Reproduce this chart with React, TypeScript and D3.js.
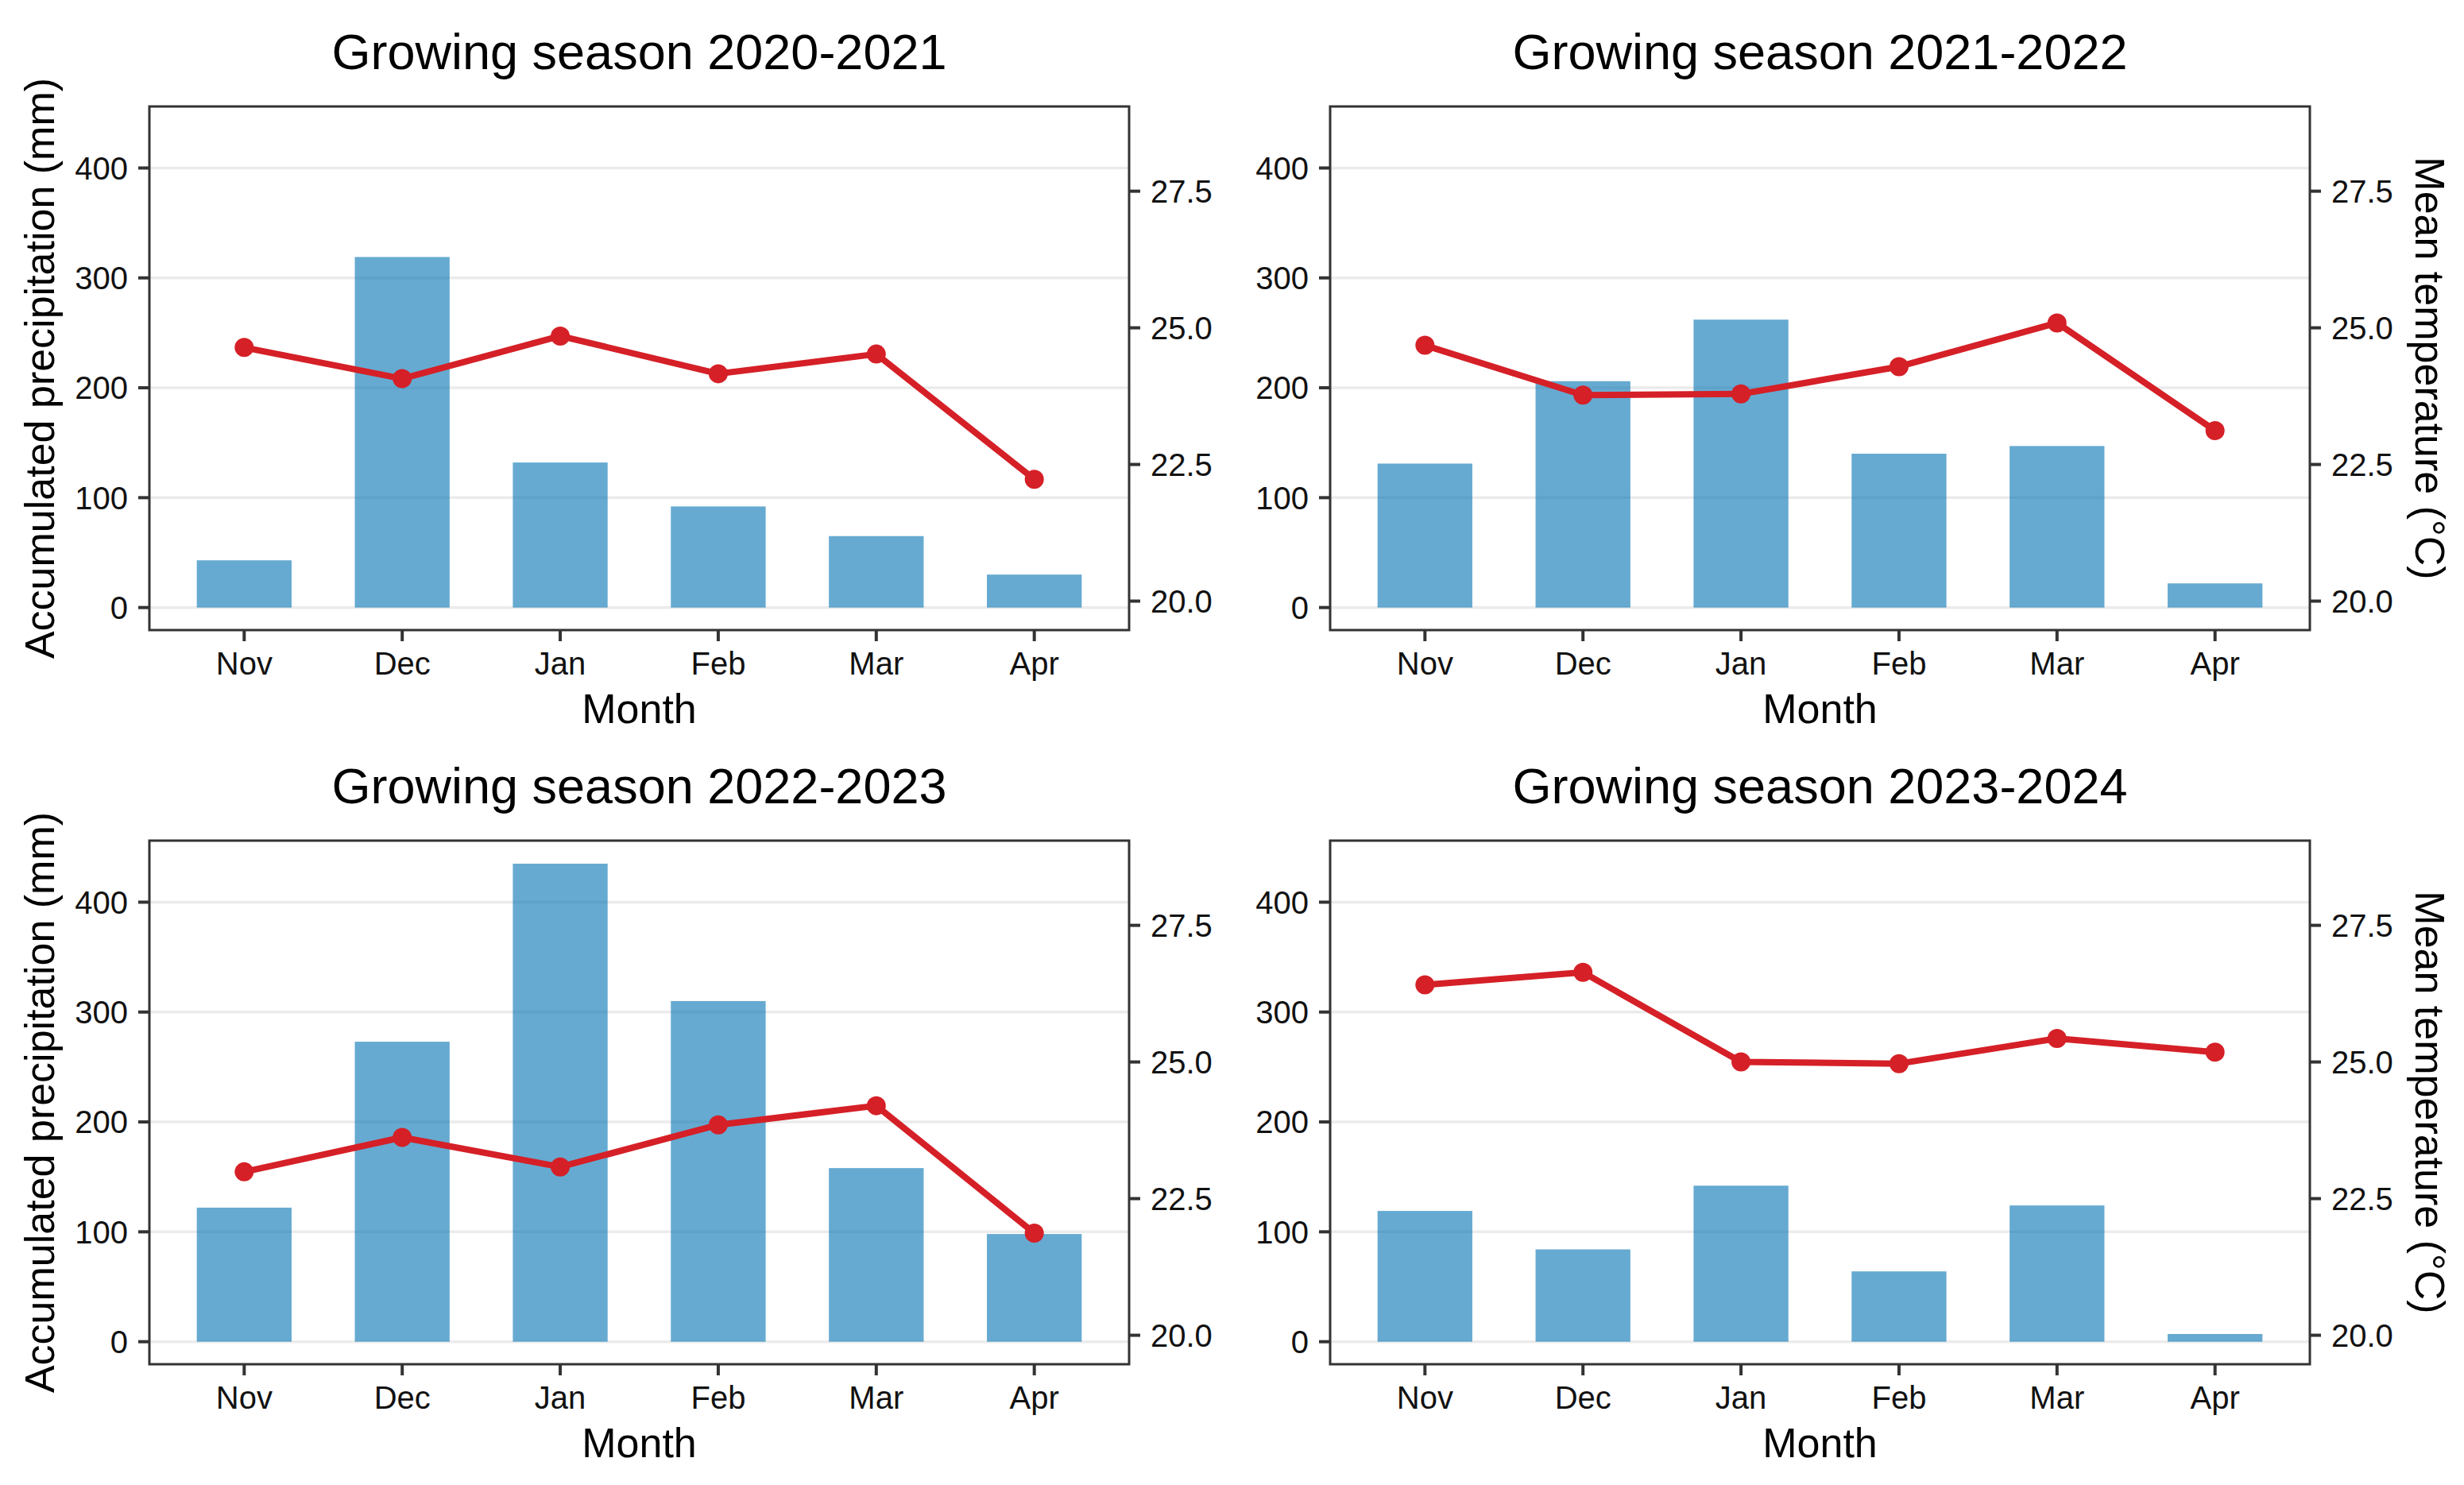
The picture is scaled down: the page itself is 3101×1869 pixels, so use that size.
import * as React from "react";
import * as d3 from "d3";

const months = ["Nov", "Dec", "Jan", "Feb", "Mar", "Apr"];
const seasons = ["2020-2021", "2021-2022", "2022-2023", "2023-2024"];

// accumulated precipitation per month (mm)
const precip2021 = [43, 319, 132, 92, 65, 30];
const precip2122 = [131, 206, 262, 140, 147, 22];
const precip2223 = [122, 273, 435, 310, 158, 98];
const precip2324 = [119, 84, 142, 64, 124, 7];

// mean temperature per month (°C)
const temp2021 = [24.64, 24.07, 24.85, 24.16, 24.52, 22.23];
const temp2122 = [24.68, 23.77, 23.79, 24.29, 25.09, 23.12];
const temp2223 = [22.99, 23.62, 23.08, 23.85, 24.2, 21.87];
const temp2324 = [26.41, 26.64, 25.0, 24.97, 25.43, 25.18];

const precipTicks = [0, 100, 200, 300, 400];
const tempTicks = [20, 22.5, 25, 27.5];

const precipBySeason = [precip2021, precip2122, precip2223, precip2324];
const tempBySeason = [temp2021, temp2122, temp2223, temp2324];

const WIDTH = 3101;
const HEIGHT = 1869;
const colX = [188, 1674];
const rowY = [134, 1058];
const PW = 1233;
const PH = 659;

const FONT = "'Liberation Sans', Arial, Helvetica, sans-serif";
const BAR = "#0072B2";
const RED = "#d52027";
const AXIS = "#333333";

const Panel = ({ season, precip, temp, x0, y0, leftTitle, rightTitle }) => {
  const x = d3.scaleBand().domain(months).range([0, PW]).paddingInner(0).paddingOuter(0.1);
  const y = d3.scaleLinear().domain([-20.5, 456]).range([PH, 0]);
  const yT = d3.scaleLinear().domain([19.47, 29.05]).range([PH, 0]);
  const bw = x.bandwidth() * 0.6;
  const cx = (m: string) => (x(m) as number) + x.bandwidth() / 2;

  const line = d3
    .line<number>()
    .x((d, i) => cx(months[i]))
    .y(d => yT(d));

  return (
    <g transform={`translate(${x0},${y0})`}>
      <text
        x={PW / 2}
        y={-47}
        textAnchor="middle"
        fontSize={63}
        fontFamily={FONT}
        fill="#000"
      >
        {`Growing season ${season}`}
      </text>

      {precipTicks.map(t => (
        <line key={`g${t}`} x1={0} x2={PW} y1={y(t)} y2={y(t)} stroke="#ebebeb" strokeWidth={3.5} />
      ))}

      {precip.map((v, i) => (
        <rect
          key={months[i]}
          x={cx(months[i]) - bw / 2}
          y={y(v)}
          width={bw}
          height={y(0) - y(v)}
          fill={BAR}
          fillOpacity={0.6}
        />
      ))}

      <path d={line(temp) as string} fill="none" stroke={RED} strokeWidth={8} strokeLinejoin="round" />
      {temp.map((v, i) => (
        <circle key={`p${i}`} cx={cx(months[i])} cy={yT(v)} r={12} fill={RED} />
      ))}

      <rect x={0} y={0} width={PW} height={PH} fill="none" stroke={AXIS} strokeWidth={3} />

      {/* left axis: precipitation */}
      {precipTicks.map(t => (
        <g key={`l${t}`} transform={`translate(0,${y(t)})`}>
          <line x1={-14} x2={0} stroke={AXIS} strokeWidth={4} />
          <text x={-27} dy="0.36em" textAnchor="end" fontSize={40} fontFamily={FONT} fill="#111">
            {t}
          </text>
        </g>
      ))}

      {/* right axis: temperature */}
      {tempTicks.map(t => (
        <g key={`r${t}`} transform={`translate(${PW},${yT(t)})`}>
          <line x1={0} x2={14} stroke={AXIS} strokeWidth={4} />
          <text x={27} dy="0.36em" textAnchor="start" fontSize={40} fontFamily={FONT} fill="#111">
            {d3.format(".1f")(t)}
          </text>
        </g>
      ))}

      {/* bottom axis: months */}
      {months.map(m => (
        <g key={`b${m}`} transform={`translate(${cx(m)},${PH})`}>
          <line y1={0} y2={14} stroke={AXIS} strokeWidth={4} />
          <text y={56} textAnchor="middle" fontSize={40} fontFamily={FONT} fill="#111">
            {m}
          </text>
        </g>
      ))}
      <text x={PW / 2} y={PH + 117} textAnchor="middle" fontSize={52} fontFamily={FONT} fill="#000">
        Month
      </text>

      {leftTitle && (
        <text
          transform={`translate(${68 - x0},${PH / 2}) rotate(-90)`}
          textAnchor="middle"
          fontSize={52}
          fontFamily={FONT}
          fill="#000"
        >
          Accumulated precipitation (mm)
        </text>
      )}
      {rightTitle && (
        <text
          transform={`translate(${3040 - x0},${PH / 2}) rotate(90)`}
          textAnchor="middle"
          fontSize={52}
          fontFamily={FONT}
          fill="#000"
        >
          Mean temperature (°C)
        </text>
      )}
    </g>
  );
};

const App = () => {
  return (
    <svg
      width={WIDTH}
      height={HEIGHT}
      style={{ position: "absolute", left: 0, top: 0, background: "#fff" }}
    >
      <rect width={WIDTH} height={HEIGHT} fill="#fff" />
      {seasons.map((s, i) => (
        <Panel
          key={s}
          season={s}
          precip={precipBySeason[i]}
          temp={tempBySeason[i]}
          x0={colX[i % 2]}
          y0={rowY[Math.floor(i / 2)]}
          leftTitle={i % 2 === 0}
          rightTitle={i % 2 === 1}
        />
      ))}
    </svg>
  );
};

export default App;
